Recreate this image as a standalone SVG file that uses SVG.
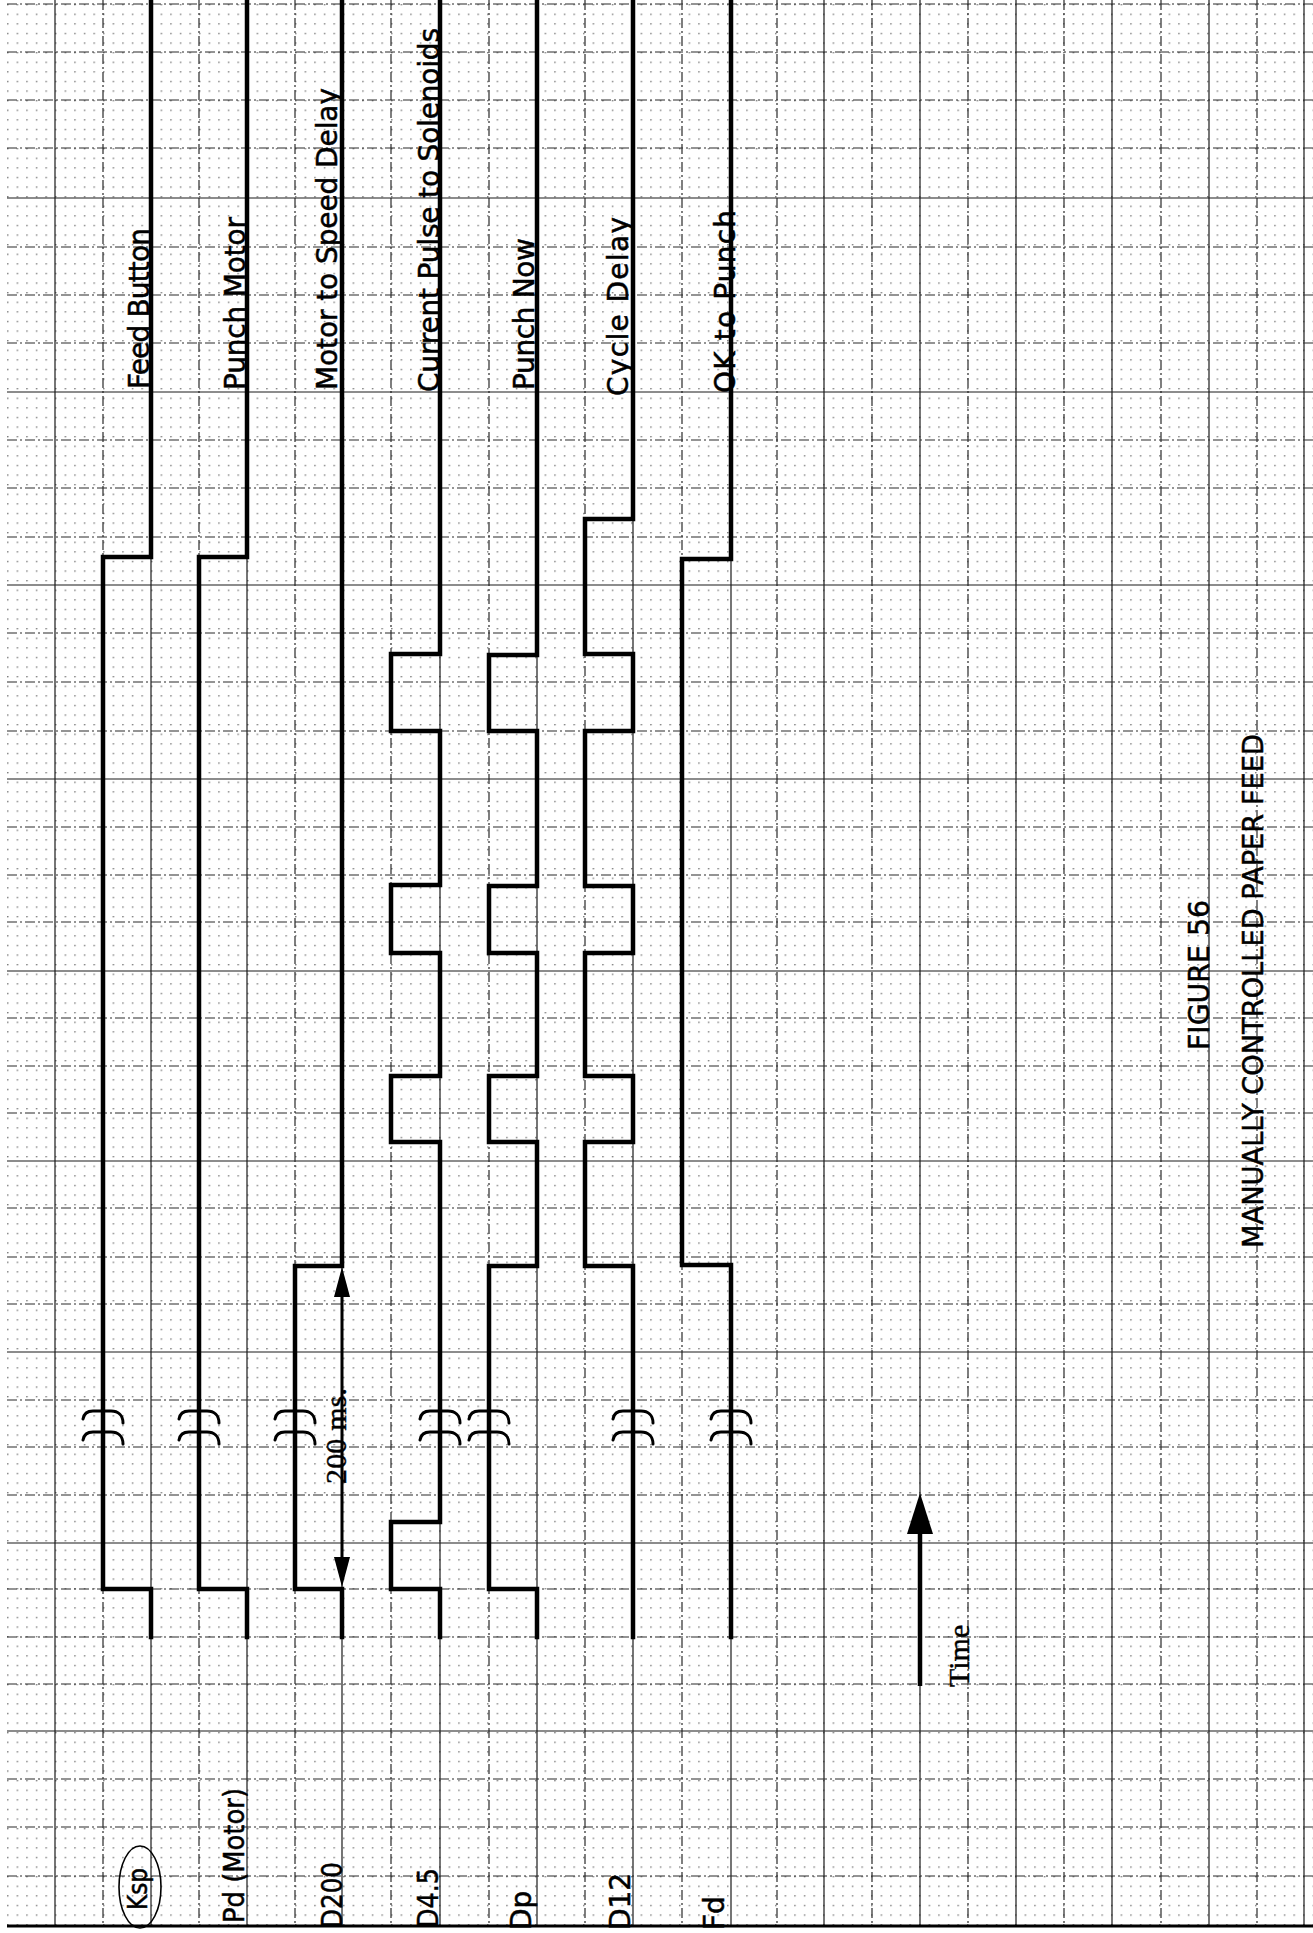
<svg xmlns="http://www.w3.org/2000/svg" width="1313" height="1933" viewBox="0 0 1313 1933">
<style>
.gs{stroke:#1a1a1a;stroke-width:1.2;fill:none}
.gd{stroke:#2a2a2a;stroke-width:1.2;fill:none;stroke-dasharray:10 3 2 3}
.sig{stroke:#000;stroke-width:4.5;fill:none;stroke-linejoin:miter;stroke-linecap:square}
.brk{stroke:#000;stroke-width:3;fill:none;stroke-linecap:round}
.lbl{font-family:"DejaVu Sans","Liberation Sans",sans-serif;font-size:28px;fill:#000;stroke:#000;stroke-width:0.5}
.ser{font-family:"Liberation Serif","DejaVu Serif",serif;font-size:30px;fill:#000;stroke:#000;stroke-width:0.4}
</style>
<defs>
<pattern id="dots" x="7" y="4" width="9.6" height="9.6" patternUnits="userSpaceOnUse"><circle cx="0.8" cy="0.8" r="0.75" fill="#555"/></pattern>
<marker id="dimArrow" viewBox="0 0 30 16" refX="0" refY="8" markerWidth="30" markerHeight="16" markerUnits="userSpaceOnUse" orient="auto-start-reverse"><path d="M0,0 L30,8 L0,16 Z" fill="#000"/></marker>
<marker id="timeArrow" viewBox="0 0 41 26" refX="0" refY="13" markerWidth="41" markerHeight="26" markerUnits="userSpaceOnUse" orient="auto"><path d="M0,0 L41,13 L0,26 Z" fill="#000"/></marker>
<path id="brk" class="brk" d="M-20,8 C-19,2 -15,0 -10,0 L8,0 C15,0 20,4 20,12"/>
</defs>
<rect width="1313" height="1933" fill="#fff"/>
<g id="paper">
<rect x="7" y="0" width="1306" height="1926" fill="url(#dots)"/>
<g id="vgrid">
<line class="gs" x1="55" y1="0" x2="55" y2="1926"/>
<line class="gd" x1="103" y1="0" x2="103" y2="1926"/>
<line class="gs" x1="151" y1="0" x2="151" y2="1926"/>
<line class="gd" x1="199" y1="0" x2="199" y2="1926"/>
<line class="gs" x1="247" y1="0" x2="247" y2="1926"/>
<line class="gd" x1="295" y1="0" x2="295" y2="1926"/>
<line class="gs" x1="342" y1="0" x2="342" y2="1926"/>
<line class="gd" x1="391" y1="0" x2="391" y2="1926"/>
<line class="gs" x1="440" y1="0" x2="440" y2="1926"/>
<line class="gd" x1="489" y1="0" x2="489" y2="1926"/>
<line class="gs" x1="537" y1="0" x2="537" y2="1926"/>
<line class="gd" x1="585" y1="0" x2="585" y2="1926"/>
<line class="gs" x1="633" y1="0" x2="633" y2="1926"/>
<line class="gd" x1="682" y1="0" x2="682" y2="1926"/>
<line class="gs" x1="731" y1="0" x2="731" y2="1926"/>
<line class="gd" x1="777" y1="0" x2="777" y2="1926"/>
<line class="gs" x1="824" y1="0" x2="824" y2="1926"/>
<line class="gd" x1="872" y1="0" x2="872" y2="1926"/>
<line class="gs" x1="920" y1="0" x2="920" y2="1926"/>
<line class="gd" x1="968" y1="0" x2="968" y2="1926"/>
<line class="gs" x1="1016" y1="0" x2="1016" y2="1926"/>
<line class="gd" x1="1064" y1="0" x2="1064" y2="1926"/>
<line class="gs" x1="1112" y1="0" x2="1112" y2="1926"/>
<line class="gd" x1="1161" y1="0" x2="1161" y2="1926"/>
<line class="gs" x1="1209" y1="0" x2="1209" y2="1926"/>
<line class="gd" x1="1257" y1="0" x2="1257" y2="1926"/>
<line class="gs" x1="1304" y1="0" x2="1304" y2="1926"/>
</g>
<g id="hgrid">
<line class="gd" x1="7" y1="4" x2="1313" y2="4"/>
<line class="gd" x1="7" y1="52" x2="1313" y2="52"/>
<line class="gd" x1="7" y1="100" x2="1313" y2="100"/>
<line class="gd" x1="7" y1="148" x2="1313" y2="148"/>
<line class="gs" x1="7" y1="198" x2="1313" y2="198"/>
<line class="gd" x1="7" y1="247" x2="1313" y2="247"/>
<line class="gd" x1="7" y1="295" x2="1313" y2="295"/>
<line class="gd" x1="7" y1="343" x2="1313" y2="343"/>
<line class="gs" x1="7" y1="392" x2="1313" y2="392"/>
<line class="gd" x1="7" y1="440" x2="1313" y2="440"/>
<line class="gd" x1="7" y1="488" x2="1313" y2="488"/>
<line class="gd" x1="7" y1="537" x2="1313" y2="537"/>
<line class="gs" x1="7" y1="585" x2="1313" y2="585"/>
<line class="gd" x1="7" y1="633" x2="1313" y2="633"/>
<line class="gd" x1="7" y1="682" x2="1313" y2="682"/>
<line class="gd" x1="7" y1="731" x2="1313" y2="731"/>
<line class="gs" x1="7" y1="779" x2="1313" y2="779"/>
<line class="gd" x1="7" y1="827" x2="1313" y2="827"/>
<line class="gd" x1="7" y1="875" x2="1313" y2="875"/>
<line class="gd" x1="7" y1="922" x2="1313" y2="922"/>
<line class="gs" x1="7" y1="971" x2="1313" y2="971"/>
<line class="gd" x1="7" y1="1018" x2="1313" y2="1018"/>
<line class="gd" x1="7" y1="1066" x2="1313" y2="1066"/>
<line class="gd" x1="7" y1="1113" x2="1313" y2="1113"/>
<line class="gs" x1="7" y1="1161" x2="1313" y2="1161"/>
<line class="gd" x1="7" y1="1208" x2="1313" y2="1208"/>
<line class="gd" x1="7" y1="1257" x2="1313" y2="1257"/>
<line class="gd" x1="7" y1="1304" x2="1313" y2="1304"/>
<line class="gs" x1="7" y1="1352" x2="1313" y2="1352"/>
<line class="gd" x1="7" y1="1400" x2="1313" y2="1400"/>
<line class="gd" x1="7" y1="1447" x2="1313" y2="1447"/>
<line class="gd" x1="7" y1="1495" x2="1313" y2="1495"/>
<line class="gs" x1="7" y1="1543" x2="1313" y2="1543"/>
<line class="gd" x1="7" y1="1589" x2="1313" y2="1589"/>
<line class="gd" x1="7" y1="1637" x2="1313" y2="1637"/>
<line class="gd" x1="7" y1="1684" x2="1313" y2="1684"/>
<line class="gs" x1="7" y1="1731" x2="1313" y2="1731"/>
<line class="gd" x1="7" y1="1779" x2="1313" y2="1779"/>
<line class="gd" x1="7" y1="1827" x2="1313" y2="1827"/>
<line class="gd" x1="7" y1="1876" x2="1313" y2="1876"/>
<line x1="7" y1="1926" x2="1313" y2="1926" stroke="#000" stroke-width="3"/>
</g>
</g>

<g id="sig-ksp">
<path class="sig" d="M151,0 V557 H103 V1589 H151 V1637"/>
<use href="#brk" x="103" y="1411"/><use href="#brk" x="103" y="1432"/>
<text class="lbl" transform="translate(149,389) rotate(-90)" textLength="161" lengthAdjust="spacing">Feed Button</text>
<ellipse cx="140" cy="1887" rx="21" ry="41" fill="none" stroke="#000" stroke-width="1.6"/>
<text class="lbl" transform="translate(147,1910) rotate(-90)" style="font-size:26px" textLength="42" lengthAdjust="spacingAndGlyphs">Ksp</text>
</g>

<g id="sig-pd">
<path class="sig" d="M247,0 V557 H199 V1589 H247 V1637"/>
<use href="#brk" x="199" y="1411"/><use href="#brk" x="199" y="1432"/>
<text class="lbl" transform="translate(245,390) rotate(-90)" textLength="173" lengthAdjust="spacing">Punch Motor</text>
<text class="lbl" transform="translate(244,1923) rotate(-90)" textLength="135" lengthAdjust="spacingAndGlyphs">Pd (Motor)</text>
</g>

<g id="sig-d200">
<path class="sig" d="M342,0 V1266 H295 V1589 H342 V1637"/>
<use href="#brk" x="295" y="1411"/><use href="#brk" x="295" y="1432"/>
<text class="lbl" transform="translate(337,390) rotate(-90)" textLength="302" lengthAdjust="spacing">Motor to Speed Delay</text>
<text class="lbl" transform="translate(342,1928) rotate(-90)" textLength="66" lengthAdjust="spacingAndGlyphs">D200</text>
</g>

<g id="sig-d45">
<path class="sig" d="M440,0 V654 H391 V731 H440 V885 H391 V953 H440 V1076 H391 V1142 H440 V1522 H391 V1589 H440 V1637"/>
<use href="#brk" x="440" y="1411"/><use href="#brk" x="440" y="1432"/>
<text class="lbl" transform="translate(439,392) rotate(-90)" textLength="364" lengthAdjust="spacing">Current Pulse to Solenoids</text>
<text class="lbl" transform="translate(438,1928) rotate(-90)" textLength="60" lengthAdjust="spacingAndGlyphs">D4.5</text>
</g>

<g id="sig-dp">
<path class="sig" d="M537,0 V655 H489 V731 H537 V886 H489 V953 H537 V1076 H489 V1142 H537 V1266 H489 V1589 H537 V1637"/>
<use href="#brk" x="489" y="1411"/><use href="#brk" x="489" y="1432"/>
<text class="lbl" transform="translate(534,390) rotate(-90)" textLength="152" lengthAdjust="spacing">Punch Now</text>
<text class="lbl" transform="translate(531,1930) rotate(-90)">Dp</text>
</g>

<g id="sig-d12">
<path class="sig" d="M633,0 V519 H585 V654 H633 V731 H585 V886 H633 V953 H585 V1076 H633 V1142 H585 V1266 H633 V1637"/>
<use href="#brk" x="633" y="1411"/><use href="#brk" x="633" y="1432"/>
<text class="lbl" transform="translate(628,396) rotate(-90)" textLength="179" lengthAdjust="spacing">Cycle Delay</text>
<text class="lbl" transform="translate(630,1930) rotate(-90)">D12</text>
</g>

<g id="sig-fd">
<path class="sig" d="M731,0 V559 H682 V1265 H731 V1637"/>
<use href="#brk" x="731" y="1411"/><use href="#brk" x="731" y="1432"/>
<text class="lbl" transform="translate(735,393) rotate(-90)" textLength="183" lengthAdjust="spacing">OK to Punch</text>
<text class="lbl" transform="translate(724,1930) rotate(-90)">Fd</text>
</g>

<g id="connectors">
<line x1="342" y1="1557" x2="342" y2="1297" stroke="#000" stroke-width="3" marker-start="url(#dimArrow)" marker-end="url(#dimArrow)"/>
<text class="ser" transform="translate(346,1484) rotate(-90)" textLength="96" lengthAdjust="spacing">200 ms.</text>
<line x1="920" y1="1686" x2="920" y2="1534" stroke="#000" stroke-width="4.5" marker-end="url(#timeArrow)"/>
<text class="ser" transform="translate(969,1687) rotate(-90)">Time</text>
</g>

<g id="caption">
<text class="lbl" transform="translate(1209,1050) rotate(-90)" textLength="150" lengthAdjust="spacingAndGlyphs">FIGURE 56</text>
<text class="lbl" transform="translate(1263,1248) rotate(-90)" textLength="514" lengthAdjust="spacingAndGlyphs">MANUALLY CONTROLLED PAPER FEED</text>
</g>
</svg>
